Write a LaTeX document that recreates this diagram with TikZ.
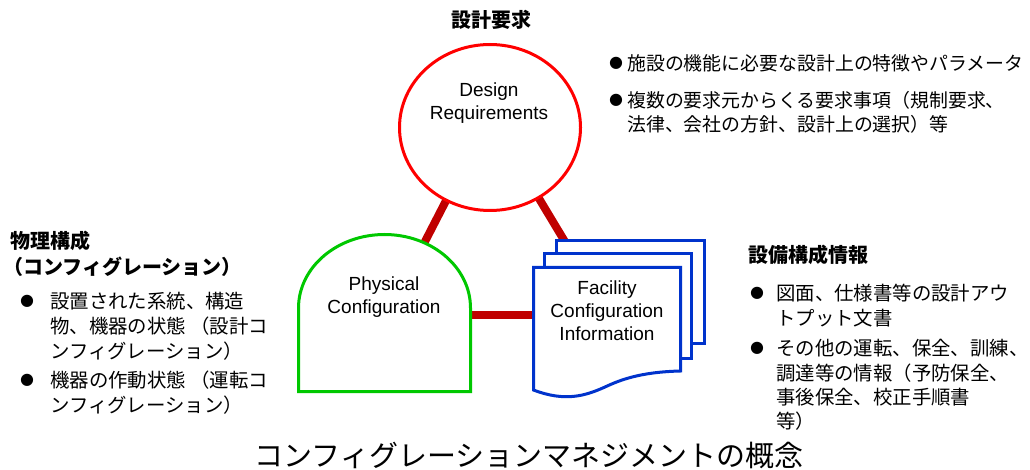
\documentclass[tikz,border=0pt]{standalone}
\usepackage{fontspec}
\setmainfont{Liberation Sans}
\newfontfamily\jpfont{Noto Sans CJK JP}
\newfontfamily\bulfont{DejaVu Sans}
\usetikzlibrary{shapes.geometric}
\definecolor{conred}{RGB}{192,0,0}
\definecolor{circred}{RGB}{255,0,0}
\definecolor{physgreen}{RGB}{0,200,0}
\definecolor{docblue}{RGB}{0,51,204}
\begin{document}
\begin{tikzpicture}[x=1pt,y=-1pt,
  conn/.style={line width=8pt, draw=conred},
  shapeline/.style={line width=3pt, fill=white},
  entext/.style={font=\fontsize{19}{23}\selectfont, align=center, inner sep=0},
  jp/.style={font=\jpfont\fontsize{19.4}{24}\selectfont, anchor=west, inner sep=0},
  jpnarrow/.style={font=\jpfont\fontsize{18.9}{24}\selectfont, anchor=west, inner sep=0},
  jphead/.style={font=\jpfont\bfseries\fontsize{20}{24}\selectfont, anchor=west, inner sep=0},
  bul/.style={font=\bulfont\fontsize{16}{20}\selectfont, inner sep=0}]
\useasboundingbox (0,0) rectangle (1030,470);
\fill[white] (0,0) rectangle (1030,470);

% connector end points
\coordinate (cL1) at (484,127);
\coordinate (cL2) at (400,290);
\coordinate (cR1) at (496,127);
\coordinate (cR2) at (594,290);
\coordinate (cH1) at (400,315);
\coordinate (cH2) at (600,315);
\draw[conn] (cL1) -- (cL2);
\draw[conn] (cR1) -- (cR2);
\draw[conn] (cH1) -- (cH2);

% design requirements circle
\node[ellipse, draw=circred, shapeline, minimum width=181pt, minimum height=166pt, inner sep=0] (dr) at (490,127.5) {};
\node[entext] (drt) at (489,103.5) {Design\\Requirements};

% physical configuration
\draw[draw=physgreen, shapeline] (298.5,391.5) -- (298.5,308) arc[start angle=180, end angle=0, x radius=86, y radius=-73.5] -- (470.5,391.5) -- cycle;
\node[entext] (pct) at (384,297) {Physical\\Configuration};

% facility configuration information (document stack)
\draw[draw=docblue, shapeline] (556.5,240.5) rectangle (704.5,343.5);
\draw[draw=docblue, shapeline] (544.5,253.5) rectangle (691.5,358.5);
\draw[draw=docblue, shapeline] (533.5,267.5) -- (680.5,267.5) -- (680.5,371)
  .. controls (640,372) and (620,380) .. (605,387)
  .. controls (585,396) and (565,402) .. (533.5,390) -- cycle;
\node[entext] (fct) at (607,311) {Facility\\Configuration\\Information};

% title top
\node[jphead, anchor=center] (t1) at (491,20) {設計要求};
\node[bul] (b1) at (616,63) {●};
\node[jpnarrow] (r1) at (627,63) {施設の機能に必要な設計上の特徴やパラメータ};
\node[bul] (b2) at (616,100) {●};
\node[jpnarrow] (r2) at (627,100) {複数の要求元からくる要求事項（規制要求、};
\node[jpnarrow] (r3) at (627,124) {法律、会社の方針、設計上の選択）等};

% left block
\node[jphead] (h2a) at (10,241) {物理構成};
\node[jphead] (h2b) at (3,267) {（コンフィグレーション）};
\node[bul] (b3) at (27,301) {●};
\node[jp] (l1) at (50,301) {設置された系統、構造};
\node[jp] (l2) at (50,326) {物、機器の状態 （設計コ};
\node[jp] (l3) at (50,351) {ンフィグレーション）};
\node[bul] (b4) at (27,380) {●};
\node[jp] (l4) at (50,380) {機器の作動状態 （運転コ};
\node[jp] (l5) at (50,405) {ンフィグレーション）};

% right block
\node[jphead] (h3) at (748,255) {設備構成情報};
\node[bul] (b5) at (757,293) {●};
\node[jp] (m1) at (776,293) {図面、仕様書等の設計アウ};
\node[jp] (m2) at (776,318) {トプット文書};
\node[bul] (b6) at (757,348) {●};
\node[jp] (m3) at (776,348) {その他の運転、保全、訓練、};
\node[jp] (m4) at (776,373) {調達等の情報（予防保全、};
\node[jp] (m5) at (776,397) {事後保全、校正手順書};
\node[jp] (m6) at (776,421) {等）};

% caption
\node[font=\jpfont\fontsize{29}{31}\selectfont, inner sep=0] (cap) at (529,455) {コンフィグレーションマネジメントの概念};
\end{tikzpicture}
\end{document}
